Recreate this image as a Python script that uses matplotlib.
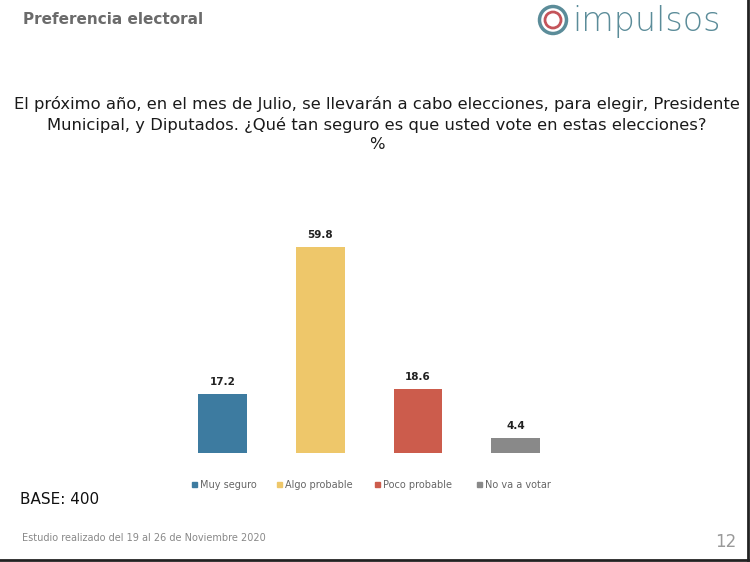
import matplotlib.pyplot as plt
from matplotlib.patches import Ellipse, Rectangle
from matplotlib.lines import Line2D

categories = ["Muy seguro", "Algo probable", "Poco probable", "No va a votar"]
values = [17.2, 59.8, 18.6, 4.4]
colors = ["#3D7BA0", "#EEC76A", "#CC5C4C", "#898989"]

title = ("El próximo año, en el mes de Julio, se llevarán a cabo elecciones, para elegir, Presidente\n"
         "Municipal, y Diputados. ¿Qué tan seguro es que usted vote en estas elecciones?\n%")

W, H = 750, 562
fig = plt.figure(figsize=(W / 100, H / 100), dpi=100)
fig.patch.set_facecolor("white")

def fx(x):
    return x / W

def fy(y):
    return 1 - y / H

ax = fig.add_axes([fx(173.6), fy(453), 391 / W, 241 / H])
x = range(len(categories))
ax.bar(x, values, width=0.5, color=colors)
ax.set_xlim(-0.5, len(categories) - 0.5)
ax.set_ylim(0, 70)
ax.axis("off")
for i, v in enumerate(values):
    ax.annotate(f"{v}", (i, v), xytext=(0, 5), textcoords="offset points",
                ha="center", va="bottom", fontsize=7.5, fontweight="bold", color="#222222")

# header
fig.text(fx(23), fy(20), "Preferencia electoral", fontsize=11, fontweight="bold",
         color="#6b6b6b", ha="left", va="center")
# logo
fig.patches.append(Ellipse((fx(553), fy(20)), 27 / W, 27 / H, transform=fig.transFigure,
                           fill=False, lw=2.5, ec="#5B8C99"))
fig.patches.append(Ellipse((fx(553), fy(20)), 16 / W, 16 / H, transform=fig.transFigure,
                           fill=False, lw=2.0, ec="#C4545A"))
fig.text(fx(572), fy(21), "impulsos", fontsize=24, color="#5B8C99",
         ha="left", va="center", family="DejaVu Sans", fontweight="light")

fig.text(fx(377), fy(124), title, fontsize=11.8, color="#1a1a1a", ha="center",
         va="center", linespacing=1.35)

# legend
leg_x = [192, 277, 375, 477]
for lx, c, lab in zip(leg_x, colors, categories):
    fig.patches.append(Rectangle((fx(lx), fy(487)), 5 / W, 5 / H,
                                 transform=fig.transFigure, color=c))
    fig.text(fx(lx + 8), fy(484.5), lab, fontsize=7, color="#666666",
             ha="left", va="center")

fig.text(fx(20), fy(500), "BASE: 400", fontsize=11, color="#111111",
         ha="left", va="center")
fig.text(fx(22), fy(538), "Estudio realizado del 19 al 26 de Noviembre 2020",
         fontsize=7, color="#888888", ha="left", va="center")
fig.text(fx(736), fy(542), "12", fontsize=12, color="#999999", ha="right", va="center")

# slide border
fig.lines.append(Line2D([fx(748), fx(748)], [fy(0), fy(560)], transform=fig.transFigure,
                        color="#222222", lw=2))
fig.lines.append(Line2D([fx(0), fx(748)], [fy(560), fy(560)], transform=fig.transFigure,
                        color="#222222", lw=2))

fig.savefig("out.png", dpi=100)
